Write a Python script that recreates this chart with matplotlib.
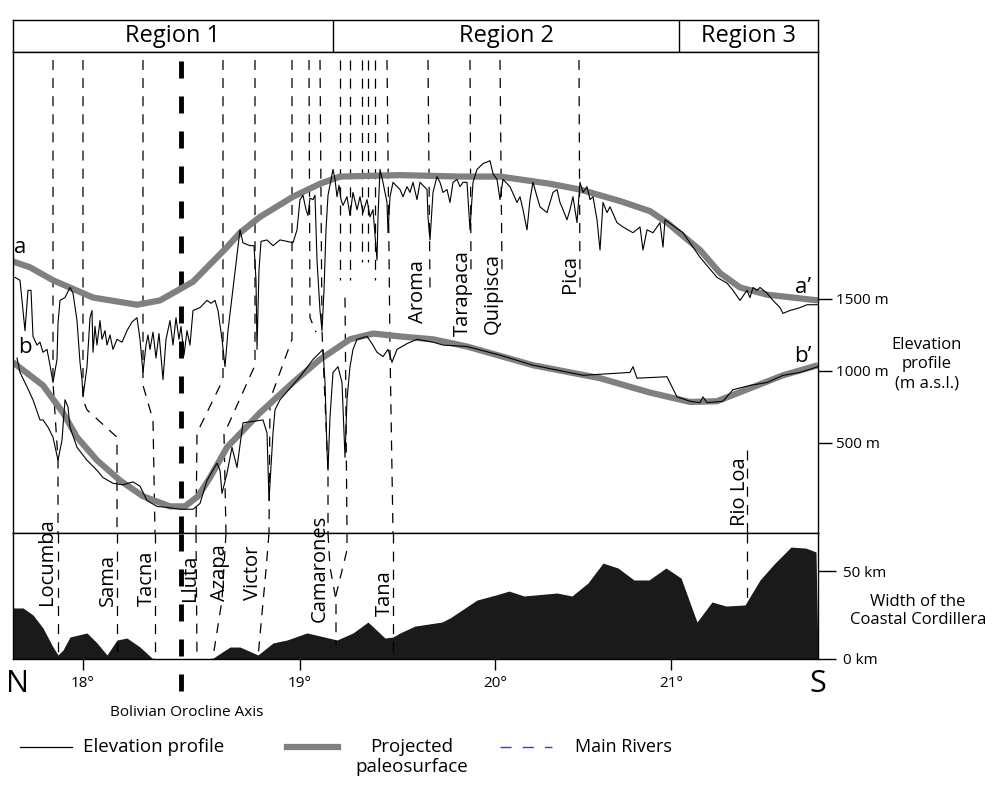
import matplotlib
matplotlib.use("Agg")
import matplotlib.pyplot as plt
from matplotlib.lines import Line2D

plt.rcParams['font.family'] = ['Open Sans', 'DejaVu Sans']

# profile distance runs 0 (north end) .. 805 (south end)
x_min, x_max = 0, 805
lat_x = [70, 287, 482, 658]
lat_labels = ['18°', '19°', '20°', '21°']
orocline_x = 168

region_names = ['Region 1', 'Region 2', 'Region 3']
region_edges = [0, 320, 666, 805]

# projected paleosurfaces (m a.s.l.)
paleo_a_x = [0, 17, 40, 80, 124, 147, 180, 214, 227, 247, 280, 307, 327, 387, 447,
             487, 537, 567, 607, 637, 654, 687, 707, 727, 754, 805]
paleo_a_z = [1760, 1720, 1630, 1510, 1460, 1490, 1620, 1860, 1960, 2070, 2210, 2300, 2350,
             2360, 2350, 2350, 2300, 2260, 2180, 2110, 2030, 1840, 1680, 1580, 1530, 1490]
paleo_b_x = [0, 30, 50, 64, 84, 107, 130, 157, 172, 185, 197, 214, 247, 280, 307, 337,
             360, 387, 420, 454, 520, 587, 637, 677, 704, 737, 770, 805]
paleo_b_z = [1060, 900, 710, 540, 380, 240, 130, 60, 60, 130, 260, 470, 710, 920, 1080,
             1220, 1260, 1240, 1220, 1170, 1040, 950, 850, 785, 790, 880, 970, 1040]

# elevation profile a
elev_a_x = [2, 7, 12, 15, 18, 20, 24, 27, 30, 34, 37, 40, 44, 45, 47, 52, 57, 60, 64, 67,
            69, 70, 74, 77, 79, 80, 82, 84, 87, 89, 92, 94, 97, 100, 104, 109, 114, 119,
            124, 127, 130, 133, 135, 137, 140, 143, 146, 150, 153, 157, 160, 163, 166, 168,
            171, 174, 177, 180, 187, 194, 198, 202, 205, 209, 212, 215, 221, 227, 230, 237,
            241, 243, 244, 246, 248, 254, 260, 267, 274, 280, 284, 287, 290, 293, 295, 297,
            300, 302, 304, 307, 309, 311, 313, 315, 320, 322, 324, 326, 328, 330, 334, 337,
            340, 344, 347, 350, 354, 357, 360, 364, 365, 367, 370, 374, 375, 377, 380, 387,
            390, 394, 397, 400, 404, 407, 414, 415, 417, 420, 424, 427, 430, 434, 437, 440,
            444, 447, 450, 454, 457, 460, 464, 470, 477, 480, 484, 487, 490, 497, 504, 507,
            510, 514, 517, 520, 524, 527, 534, 537, 540, 544, 547, 550, 554, 557, 560, 564,
            567, 570, 574, 577, 580, 584, 587, 590, 594, 597, 604, 610, 620, 627, 630, 634,
            640, 644, 647, 650, 652, 670, 687, 704, 714, 720, 727, 734, 737, 740, 744, 747,
            754, 760, 767, 770, 777, 787, 794, 805]
elev_a_z = [1650, 1630, 1280, 1560, 1560, 1240, 1180, 1200, 1130, 1150, 1040, 920, 1080,
            1330, 1490, 1510, 1580, 1540, 1350, 1060, 940, 820, 1030, 1370, 1420, 1130, 1310,
            1180, 1350, 1220, 1280, 1180, 1250, 1150, 1220, 1200, 1280, 1340, 1370, 1220, 990,
            1180, 1250, 1150, 1270, 1090, 1260, 940, 1220, 1350, 1180, 1370, 1220, 1310, 1110,
            1280, 1180, 1420, 1440, 1490, 1470, 1490, 1420, 1220, 1030, 1280, 1630, 1980, 1890,
            1870, 1870, 1630, 1150, 1700, 1900, 1910, 1870, 1910, 1900, 1890, 1980, 2190, 2220,
            2120, 2080, 2200, 2190, 2220, 1770, 1420, 1280, 1560, 1980, 2220, 2400, 2330, 2210,
            2290, 2190, 2150, 2210, 2080, 2240, 2120, 2210, 2100, 2190, 2070, 2120, 1770, 2070,
            2400, 2310, 2170, 1960, 2210, 2310, 2260, 2210, 2280, 2240, 2310, 2190, 2310, 2260,
            2070, 1910, 2240, 2350, 2310, 2240, 2260, 2170, 2310, 2330, 2280, 2310, 2310, 1980,
            2310, 2400, 2440, 2460, 2370, 2330, 2190, 2330, 2280, 2170, 2210, 2120, 1980, 2190,
            2310, 2210, 2140, 2100, 2170, 2240, 2260, 2170, 2120, 2050, 2120, 2210, 2030, 2310,
            2240, 2280, 2190, 2210, 2050, 1840, 2170, 2100, 2140, 2030, 2000, 1960, 2000, 1840,
            1980, 1960, 2000, 2030, 1860, 2050, 1960, 1790, 1650, 1610, 1560, 1490, 1560, 1510,
            1580, 1560, 1580, 1540, 1490, 1440, 1400, 1420, 1440, 1460, 1460]

# elevation profile b
elev_b_x = [4, 7, 14, 20, 27, 30, 35, 40, 45, 49, 52, 55, 57, 64, 74, 84, 90, 100, 110, 120,
            127, 134, 144, 157, 167, 180, 187, 194, 204, 207, 209, 214, 219, 224, 230, 250,
            254, 256, 260, 262, 267, 287, 300, 310, 312, 314, 315, 317, 320, 325, 329, 332,
            334, 337, 340, 344, 354, 359, 364, 370, 375, 379, 384, 394, 404, 420, 430, 454,
            487, 520, 570, 617, 620, 624, 654, 664, 677, 687, 690, 694, 710, 720, 737, 754,
            770, 787, 805]
elev_b_z = [1090, 990, 890, 800, 660, 660, 610, 540, 380, 520, 800, 750, 610, 470, 380, 310,
            260, 220, 210, 230, 200, 100, 60, 50, 40, 40, 80, 240, 360, 310, 150, 290, 470,
            330, 640, 660, 570, 100, 570, 730, 800, 960, 1080, 1150, 920, 450, 310, 680, 990,
            1030, 920, 400, 800, 1030, 1150, 1220, 1240, 1190, 1130, 1100, 1150, 1060, 1150,
            1190, 1220, 1200, 1180, 1170, 1110, 1040, 970, 990, 1030, 950, 960, 820, 790, 780,
            820, 780, 790, 870, 900, 920, 970, 990, 1030]

# width of the Coastal Cordillera (km)
width_x = [0, 10, 20, 30, 40, 45, 50, 57, 74, 84, 94, 104, 114, 127, 139, 147, 192, 200,
           217, 227, 245, 260, 274, 294, 307, 324, 340, 355, 372, 380, 387, 402, 429, 437,
           464, 483, 496, 511, 544, 559, 575, 590, 605, 621, 636, 653, 668, 684, 699, 713,
           732, 747, 762, 778, 793, 803, 805]
width_km = [29.0, 29.0, 25.0, 17.6, 6.8, 2.3, 5.1, 12.5, 14.8, 9.1, 2.3, 10.8, 11.9, 6.8, 0.5,
            0, 0, 0.5, 6.8, 6.8, 2.3, 9.1, 10.8, 14.8, 13.1, 10.8, 14.8, 21.0, 11.9, 12.5,
            14.8, 18.7, 21.0, 23.3, 33.5, 36.4, 38.6, 35.8, 37.5, 35.8, 43.2, 54.5, 51.7,
            44.9, 44.9, 51.7, 46.0, 21.0, 32.4, 30.1, 30.7, 44.9, 54.5, 63.6, 63.0, 60.8, 0]

# main rivers: (distance, elevation m) in upper panel, (distance, km) in lower panel
river_top = [
    ([40, 40, 45, 45], [3160, 920, 380, -125]),
    ([70, 70, 74, 104, 104], [3160, 800, 730, 540, -125]),
    ([130, 130, 140, 142], [3160, 900, 660, -125]),
    ([210, 210, 184, 183], [3160, 940, 570, -125]),
    ([242, 242, 211, 213], [3160, 1040, 560, -125]),
    ([279, 279, 257, 256], [3160, 1220, 800, -125]),
    ([296, 297, 303], [3160, 1370, 1270]),
    ([307, 309, 315, 315], [3160, 1280, 310, -125]),
    ([327, 327], [3160, 1630]),
    ([337, 337], [3160, 1630]),
    ([349, 349], [3160, 1760]),
    ([355, 355], [3160, 1760]),
    ([362, 362], [3160, 1630]),
    ([332, 334], [1510, -125]),
    ([374, 377, 380], [3160, 1150, -125]),
    ([415, 417], [3160, 1560]),
    ([457, 458], [3160, 1700]),
    ([487, 489], [3160, 1700]),
    ([566, 567], [3160, 1560]),
    ([734, 734], [450, -125]),
]
river_bot = [
    ([45, 45], [71.6, 2]),
    ([104, 104], [71.6, 2]),
    ([142, 142], [71.6, 1]),
    ([183, 184], [71.6, 1]),
    ([213, 209, 200], [71.6, 33.5, 1]),
    ([256, 253, 245], [71.6, 50.6, 1]),
    ([315, 317, 323], [71.6, 52.3, 33.5]),
    ([334, 334, 323, 323], [71.6, 61.9, 36.4, 8]),
    ([380, 380], [71.6, 1]),
    ([734, 734], [71.6, 30.7]),
]

# river names: lower panel (distance, km) and upper panel (distance, m)
low_names = ['Locumba', 'Sama', 'Tacna', 'Lluta', 'Azapa', 'Victor', 'Camarones', 'Tana']
low_x = [34, 95, 134, 177, 207, 240, 307, 372]
low_km = [55.1, 44.9, 46.0, 46.0, 48.8, 48.8, 51.7, 37.5]
up_names = ['Aroma', 'Tarapaca', 'Quipisca', 'Pica', 'Rio Loa']
up_x = [405, 450, 480, 557, 727]
up_z = [1550, 1540, 1540, 1670, 160]

elev_ticks = [500, 1000, 1500]
width_ticks = [0, 50]

gray = '#808080'
dash = (0, (8, 6.5))

fig = plt.figure(figsize=(10.02, 7.85), dpi=100)
L, W = 13 / 1002, 805 / 1002
ax_hdr = fig.add_axes([L, 1 - 52 / 785, W, 32 / 785])
ax_top = fig.add_axes([L, 1 - 533 / 785, W, 481 / 785])
ax_bot = fig.add_axes([L, 1 - 659 / 785, W, 126 / 785])

for ax in (ax_hdr, ax_top, ax_bot):
    ax.set_xlim(x_min, x_max)
    for s in ax.spines.values():
        s.set_linewidth(1.0)

# header
ax_hdr.set_ylim(0, 1)
ax_hdr.set_xticks([])
ax_hdr.set_yticks([])
for e in region_edges[1:-1]:
    ax_hdr.axvline(e, color='black', lw=1.0)
for name, a, b in zip(region_names, region_edges[:-1], region_edges[1:]):
    ax_hdr.text((a + b) / 2, 0.5, name, ha='center', va='center', fontsize=17)

# elevation panel
ax_top.set_ylim(-125, 3215)
ax_top.set_xticks([])
ax_top.yaxis.tick_right()
ax_top.set_yticks(elev_ticks, [f'{t} m' for t in elev_ticks])
ax_top.tick_params(axis='y', length=10, width=1, labelsize=11, pad=3)

for xs, zs in river_top:
    ax_top.plot(xs, zs, color='black', lw=0.9, linestyle=dash)
ax_top.axvline(orocline_x, color='black', lw=3.5, linestyle=(0, (3.5, 3.7)))

ax_top.plot(paleo_a_x, paleo_a_z, color=gray, lw=4.5, solid_capstyle='butt')
ax_top.plot(paleo_b_x, paleo_b_z, color=gray, lw=4.5, solid_capstyle='butt')
ax_top.plot(elev_a_x, elev_a_z, color='black', lw=0.8)
ax_top.plot(elev_b_x, elev_b_z, color='black', lw=0.8)

ax_top.text(7, 1860, 'a', fontsize=16, ha='center', va='center')
ax_top.text(12, 1160, 'b', fontsize=16, ha='center', va='center')
ax_top.text(790, 1580, 'a’', fontsize=16, ha='center', va='center')
ax_top.text(790, 1100, 'b’', fontsize=16, ha='center', va='center')
for n, x, z in zip(up_names, up_x, up_z):
    ax_top.text(x, z, n, rotation=90, ha='center', va='center', fontsize=14.5)

# width panel
ax_bot.set_ylim(0, 71.6)
ax_bot.fill_between(width_x, width_km, color='#1a1a1a', lw=0)
for xs, ks in river_bot:
    ax_bot.plot(xs, ks, color='black', lw=0.9, linestyle=dash)
ax_bot.axvline(orocline_x, ymin=-0.25, ymax=1, color='black', lw=3.5,
               linestyle=(0, (3.5, 3.7)), clip_on=False)
for n, x, k in zip(low_names, low_x, low_km):
    ax_bot.text(x, k, n, rotation=90, ha='center', va='center', fontsize=14.5)

ax_bot.set_xticks(lat_x, lat_labels)
ax_bot.tick_params(axis='x', length=8, width=1, labelsize=11, pad=4)
ax_bot.yaxis.tick_right()
ax_bot.set_yticks(width_ticks, [f'{t} km' for t in width_ticks])
ax_bot.tick_params(axis='y', length=13, width=1, labelsize=11, pad=5)

ax_bot.text(0.005, -0.08, 'N', transform=ax_bot.transAxes, fontsize=22, ha='center', va='top')
ax_bot.text(1.0, -0.08, 'S', transform=ax_bot.transAxes, fontsize=22, ha='center', va='top')

# side captions
fig.text(927 / 1002, 1 - 364 / 785, 'Elevation\nprofile\n(m a.s.l.)', ha='center',
         va='center', fontsize=12, linespacing=1.25)
fig.text(918 / 1002, 1 - 611 / 785, 'Width of the\nCoastal Cordillera', ha='center',
         va='center', fontsize=12, linespacing=1.25)
fig.text(187 / 1002, 1 - 712 / 785, 'Bolivian Orocline Axis', ha='center', va='center',
         fontsize=11)

# legend
ly = 1 - 747 / 785
fig.add_artist(Line2D([20 / 1002, 72 / 1002], [ly, ly], color='black', lw=0.9))
fig.text(83 / 1002, ly, 'Elevation profile', ha='left', va='center', fontsize=13.5)
fig.add_artist(Line2D([287 / 1002, 338 / 1002], [ly, ly], color=gray, lw=4.5))
fig.text(412 / 1002, 1 - 757 / 785, 'Projected\npaleosurface', ha='center', va='center',
         fontsize=13.5, linespacing=1.2)
fig.add_artist(Line2D([500 / 1002, 552 / 1002], [ly, ly], color='#4a3c9c', lw=1.0,
                      linestyle=(0, (8, 8))))
fig.text(575 / 1002, ly, 'Main Rivers', ha='left', va='center', fontsize=13)

fig.savefig('out.png', dpi=100)
